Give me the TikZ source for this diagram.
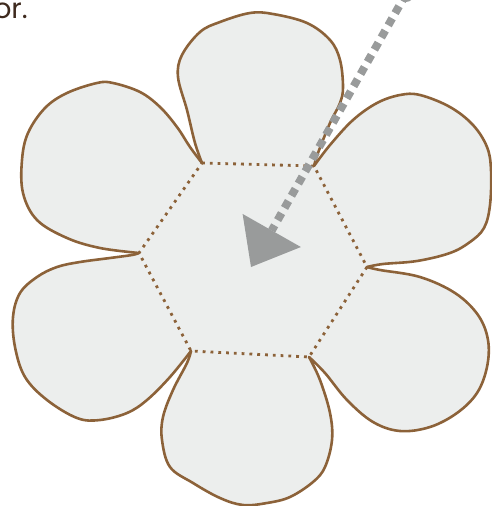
\documentclass[tikz,border=0pt]{standalone}
\usepackage{fontspec}
\setmainfont{Poppins}
\usetikzlibrary{arrows.meta}
\definecolor{petalfill}{HTML}{ECEEED}
\definecolor{petalline}{HTML}{8C6239}
\definecolor{arrowgray}{HTML}{999B9B}
\definecolor{textbrown}{HTML}{3E2A1E}
\tikzset{
  petal/.style={fill=petalfill, draw=petalline, line width=2.6pt, line join=round, line cap=round},
  hexline/.style={draw=petalline, line width=2.8pt, dash pattern=on 2.8pt off 5pt},
  arrowline/.style={draw=arrowgray, line width=8pt, dash pattern=on 8pt off 6pt},
}
\begin{document}
\begin{tikzpicture}[x=1pt,y=-1pt]
\clip (0,0) rectangle (492,506);
\coordinate (A) at (202,163);
\coordinate (B) at (314,166);
\coordinate (C) at (367,267);
\coordinate (D) at (309,357);
\coordinate (E) at (191,351);
\coordinate (F) at (139,253);
% centre
\fill[petalfill] (A) -- (B) -- (C) -- (D) -- (E) -- (F) -- cycle;
% petals
\filldraw[petal] plot[smooth, tension=0.6] coordinates {(202,163) (195,143) (187,110) (178,77) (182,55) (200,32) (220,22) (250,13) (273,14) (307,23) (330,40) (340,60) (343,87) (340,103) (330,123) (318,153) (314,166)};
\filldraw[petal] plot[smooth, tension=0.6] coordinates {(139,253) (100,248) (67,238) (37,220) (23,193) (22,160) (28,133) (45,108) (67,93) (97,83) (113,83) (140,92) (160,107) (177,127) (190,147) (202,163)};
\filldraw[petal] plot[smooth, tension=0.6] coordinates {(314,166) (330,145) (353,120) (377,103) (400,95) (420,95) (450,107) (473,125) (487,147) (491,170) (490,205) (484,228) (470,242) (450,253) (417,261) (383,264) (367,267)};
\filldraw[petal] plot[smooth, tension=0.6] coordinates {(367,267) (380,270) (420,277) (455,293) (478,315) (488,340) (487,367) (477,393) (457,413) (430,427) (400,431) (373,422) (347,400) (325,373) (309,357)};
\filldraw[petal] plot[smooth, tension=0.6] coordinates {(309,357) (320,380) (330,413) (332,440) (325,467) (313,482) (290,497) (267,503) (243,505) (220,498) (193,483) (170,467) (162,440) (163,417) (173,390) (187,363) (191,351)};
\filldraw[petal] plot[smooth, tension=0.6] coordinates {(191,351) (170,377) (147,400) (127,413) (100,420) (77,418) (47,400) (25,377) (15,347) (13,317) (20,293) (37,277) (57,267) (80,262) (110,258) (132,255) (139,253)};
% dotted hexagon
\draw[hexline] (A) -- (B) -- (C) -- (D) -- (E) -- (F) -- cycle;
% arrow
\coordinate (src) at (406,-6);
\coordinate (tgt) at (251,267);
\fill[arrowgray] (src) circle (8);
\draw[arrowline, -{Triangle[width=67pt,length=42pt,line width=0pt]}] (src) -- (tgt);
% text
\node[anchor=base east, inner sep=0pt, font=\fontsize{28}{32}\selectfont, text=textbrown] (txt) at (28,18.5) {or.};
\end{tikzpicture}
\end{document}
